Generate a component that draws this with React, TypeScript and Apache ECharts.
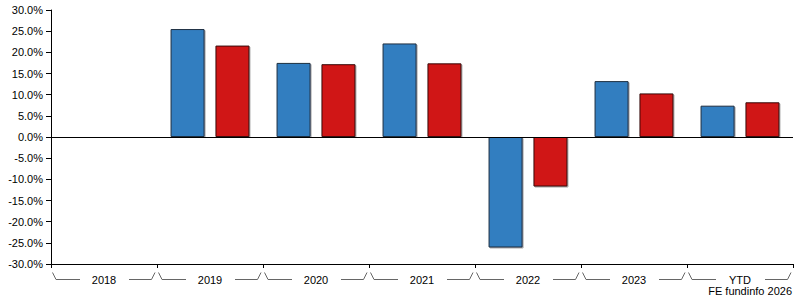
import React, { useEffect, useRef } from "react";
import * as echarts from "echarts";

const categories = ["2018", "2019", "2020", "2021", "2022", "2023", "YTD"];
const fundValues: (number | null)[] = [null, 25.5, 17.5, 22.1, -26.1, 13.2, 7.4];
const sectorValues: (number | null)[] = [null, 21.6, 17.2, 17.4, -11.7, 10.3, 8.2];
const yMin = -30;
const yMax = 30;
const yInterval = 5;
const creditText = "FE fundinfo 2026";

const FONT = "'Liberation Sans', Arial, sans-serif";

export default function App() {
  const ref = useRef<HTMLDivElement>(null);

  useEffect(() => {
    if (!ref.current) return;
    const chart = echarts.init(ref.current, null, { renderer: "svg" });

    const bracketData = categories.map((_, i) => [i, yMin]);

    const option: any = {
      animation: false,
      grid: { left: 51, right: 2, top: 10, bottom: 36, containLabel: false },
      xAxis: {
        type: "category",
        data: categories,
        boundaryGap: true,
        axisLine: { onZero: false, lineStyle: { color: "#000", width: 1 } },
        axisTick: { show: true, length: 4, inside: false, lineStyle: { color: "#000" } },
        axisLabel: { color: "#000", fontFamily: FONT, fontSize: 11, margin: 10 },
        splitLine: { show: false },
      },
      yAxis: {
        type: "value",
        min: yMin,
        max: yMax,
        interval: yInterval,
        axisLine: { show: true, lineStyle: { color: "#000", width: 1 } },
        axisTick: { show: true, length: 5, lineStyle: { color: "#000" } },
        axisLabel: {
          color: "#000",
          fontFamily: FONT,
          fontSize: 11,
          margin: 8,
          formatter: (v: number) => v.toFixed(1) + "%",
        },
        splitLine: { show: false },
      },
      series: [
        {
          type: "bar",
          data: fundValues,
          barWidth: 34,
          barGap: "32%",
          itemStyle: {
            color: "#337EC0",
            borderColor: "#1e2f40",
            borderWidth: 1,
            shadowColor: "rgba(0,0,0,0.35)",
            shadowBlur: 1,
            shadowOffsetX: 1,
            shadowOffsetY: 1,
          },
          markLine: {
            silent: true,
            symbol: "none",
            label: { show: false },
            lineStyle: { color: "#000", type: "solid", width: 1 },
            data: [{ yAxis: 0 }],
          },
        },
        {
          type: "bar",
          data: sectorValues,
          barWidth: 34,
          barGap: "32%",
          itemStyle: {
            color: "#D01212",
            borderColor: "#3a1010",
            borderWidth: 1,
            shadowColor: "rgba(0,0,0,0.35)",
            shadowBlur: 1,
            shadowOffsetX: 1,
            shadowOffsetY: 1,
          },
        },
        {
          type: "custom",
          silent: true,
          clip: false,
          data: bracketData,
          renderItem: (params: any, api: any) => {
            const c = api.coord([api.value(0), api.value(1)]);
            const band = api.size([1, 0])[0];
            const x0 = c[0] - band / 2;
            const x1 = c[0] + band / 2;
            const yTop = c[1] + 8.5;
            const yBot = c[1] + 15.5;
            const style = { stroke: "#666", lineWidth: 1, fill: null };
            return {
              type: "group",
              children: [
                {
                  type: "polyline",
                  shape: {
                    points: [
                      [x0 + 1.5, yTop],
                      [x0 + 5, yBot],
                      [x0 + 29, yBot],
                    ],
                  },
                  style,
                },
                {
                  type: "polyline",
                  shape: {
                    points: [
                      [x1 - 28, yBot],
                      [x1 - 5.5, yBot],
                      [x1 - 2, yTop],
                    ],
                  },
                  style,
                },
              ],
            };
          },
        },
      ],
      graphic: [
        {
          type: "text",
          right: 3,
          top: 285,
          style: {
            text: creditText,
            fill: "#000",
            font: "11px " + FONT,
          },
        },
      ],
    };

    chart.setOption(option);
    return () => chart.dispose();
  }, []);

  return (
    <div
      ref={ref}
      style={{ width: 795, height: 300, position: "absolute", left: 0, top: 0, background: "#fff" }}
    />
  );
}
